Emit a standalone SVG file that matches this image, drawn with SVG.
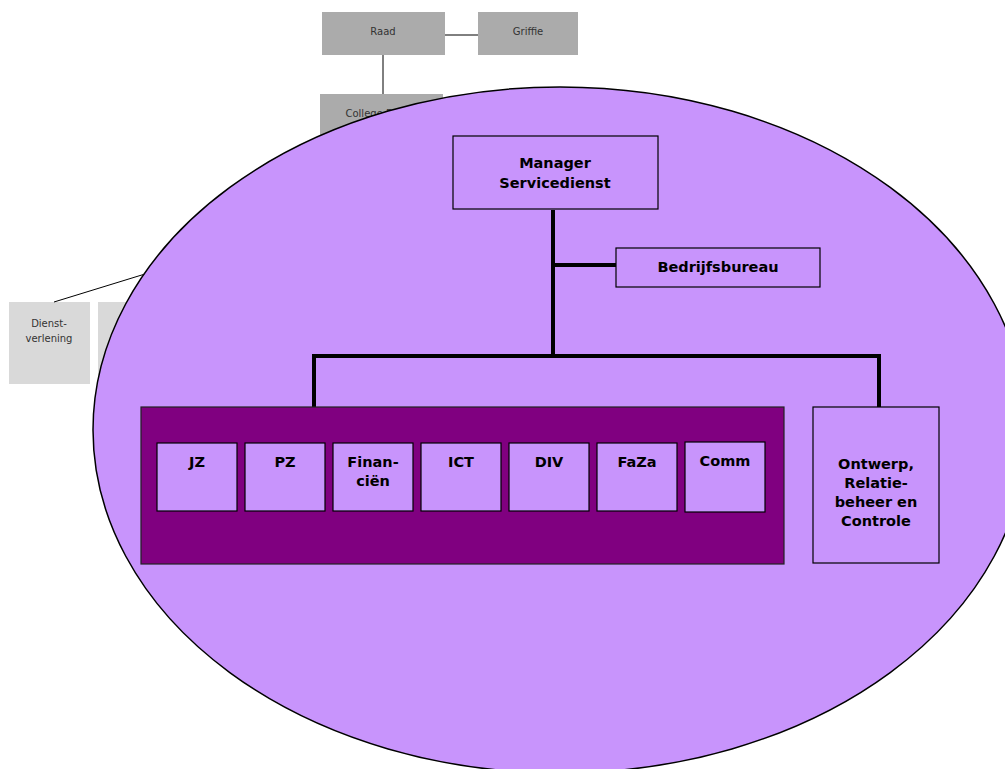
<svg xmlns="http://www.w3.org/2000/svg" width="1005" height="769" viewBox="0 0 1005 769">
  <style>
    .g1 { fill: #ababab; }
    .g2 { fill: #d9d9d9; }
    .thin { stroke: #000; stroke-width: 1; fill: none; }
    .small { font-family: "DejaVu Sans", Verdana, sans-serif; font-size: 10px; fill: #333; text-anchor: middle; }
    .box { fill: #c894fc; stroke: #000; stroke-width: 1.2; }
    .lbl { font-family: "DejaVu Sans", Verdana, sans-serif; font-size: 14.5px; font-weight: bold; fill: #000; text-anchor: middle; }
    .bar { stroke: #000; stroke-width: 4; fill: none; }
  </style>
  <rect width="1005" height="769" fill="#fff"/>

  <!-- upper organisation (behind the service cluster) -->
  <g id="raad"><rect class="g1" x="322" y="12" width="123" height="43"/><text class="small" x="383" y="35">Raad</text></g>
  <g id="griffie"><rect class="g1" x="478" y="12" width="100" height="43"/><text class="small" x="528" y="35">Griffie</text></g>
  <g id="college"><rect class="g1" x="320" y="94" width="123" height="50"/><text class="small" x="378" y="117">College B&amp;W</text></g>
  <g id="dienstverlening"><rect class="g2" x="9" y="302" width="81" height="82"/><text class="small" x="49" y="327">Dienst-</text><text class="small" x="49" y="342">verlening</text></g>
  <g id="dienst2"><rect class="g2" x="98" y="302" width="60" height="82"/></g>
  <g id="upper-links">
    <line class="thin" x1="445" y1="35" x2="478" y2="35"/>
    <line class="thin" x1="383" y1="55" x2="383" y2="94" stroke="#555"/>
    <line class="thin" x1="54" y1="302" x2="145" y2="274"/>
  </g>

  <!-- service cluster -->
  <g id="servicedienst"><ellipse cx="560" cy="430" rx="467" ry="343" fill="#c894fc" stroke="#000" stroke-width="1.5"/></g>

  <g id="connectors">
    <line class="bar" x1="553" y1="210" x2="553" y2="357"/>
    <line class="bar" x1="553" y1="265" x2="616" y2="265"/>
    <line class="bar" x1="314" y1="356" x2="879" y2="356"/>
    <line class="bar" x1="314" y1="354" x2="314" y2="407"/>
    <line class="bar" x1="879" y1="354" x2="879" y2="407"/>
  </g>

  <g id="manager"><rect class="box" x="453" y="136" width="205" height="73"/><text class="lbl" x="555" y="168">Manager</text><text class="lbl" x="555" y="188">Servicedienst</text></g>
  <g id="bedrijfsbureau"><rect class="box" x="616" y="248" width="204" height="39"/><text class="lbl" x="718" y="272">Bedrijfsbureau</text></g>

  <g id="afdelingen">
    <rect x="141" y="407" width="643" height="157" fill="#800080" stroke="#222" stroke-width="1.2"/>
  </g>
  <g id="jz"><rect class="box" x="157" y="443" width="80" height="68"/><text class="lbl" x="197" y="467">JZ</text></g>
  <g id="pz"><rect class="box" x="245" y="443" width="80" height="68"/><text class="lbl" x="285" y="467">PZ</text></g>
  <g id="financien"><rect class="box" x="333" y="443" width="80" height="68"/><text class="lbl" x="373" y="467">Finan-</text><text class="lbl" x="373" y="486">ciën</text></g>
  <g id="ict"><rect class="box" x="421" y="443" width="80" height="68"/><text class="lbl" x="461" y="467">ICT</text></g>
  <g id="div"><rect class="box" x="509" y="443" width="80" height="68"/><text class="lbl" x="549" y="467">DIV</text></g>
  <g id="faza"><rect class="box" x="597" y="443" width="80" height="68"/><text class="lbl" x="637" y="467">FaZa</text></g>
  <g id="comm"><rect class="box" x="685" y="442" width="80" height="70"/><text class="lbl" x="725" y="466">Comm</text></g>

  <g id="ontwerp"><rect class="box" x="813" y="407" width="126" height="156"/>
    <text class="lbl" x="876" y="469">Ontwerp,</text>
    <text class="lbl" x="876" y="488">Relatie-</text>
    <text class="lbl" x="876" y="507">beheer en</text>
    <text class="lbl" x="876" y="526">Controle</text>
  </g>
</svg>
